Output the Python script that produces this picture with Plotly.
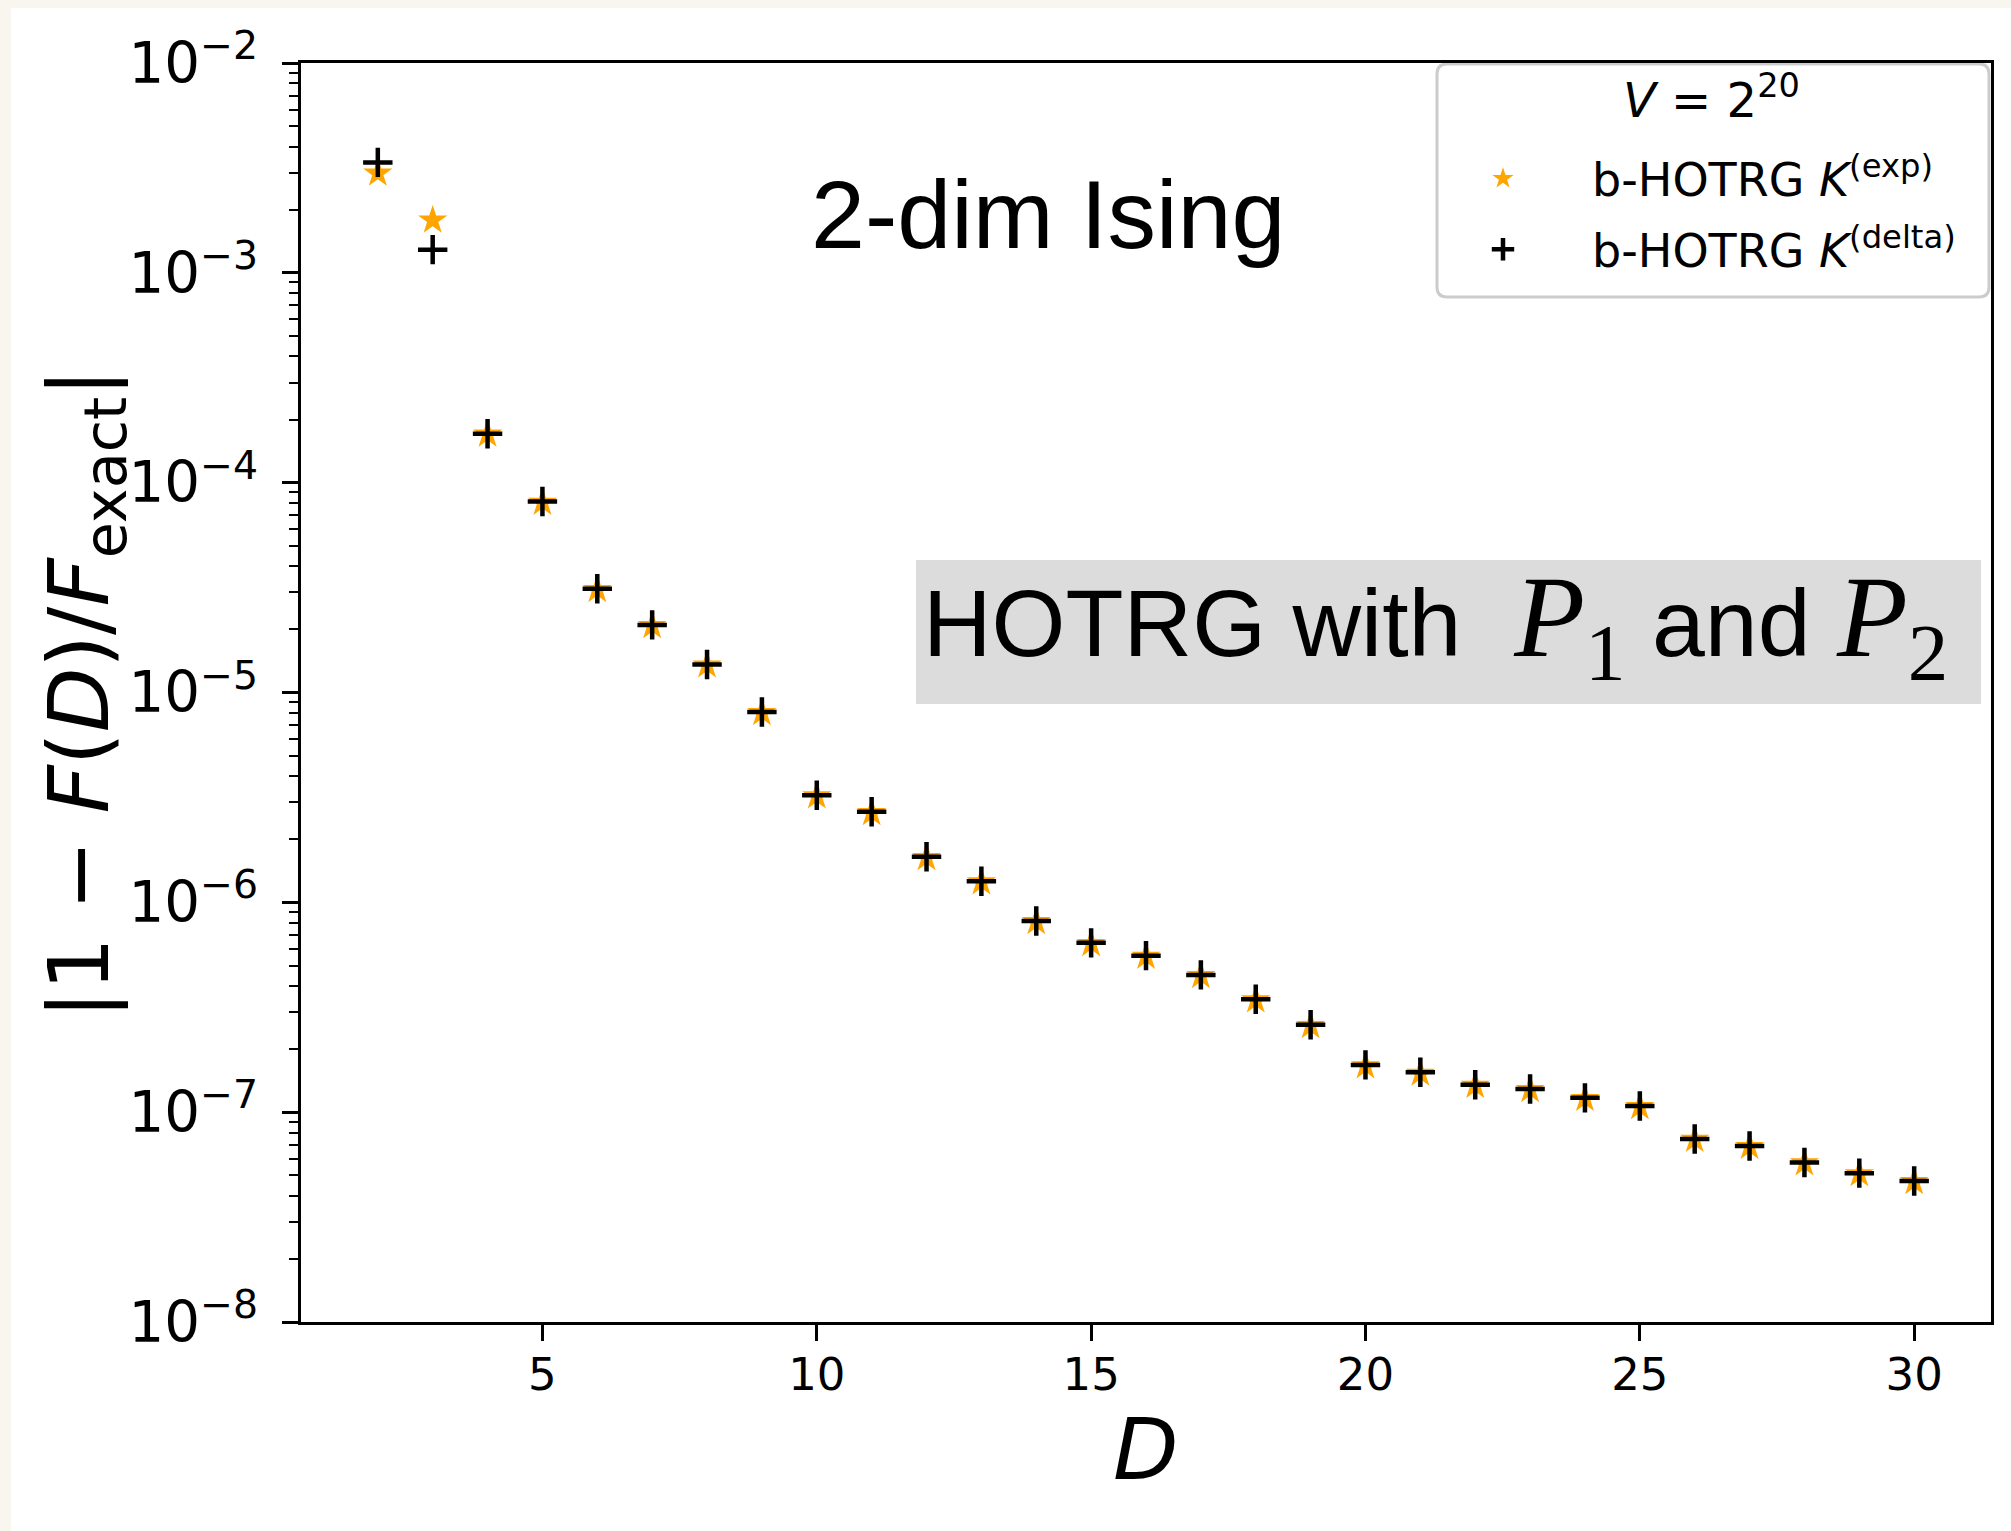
import plotly.graph_objects as go

# ---- data ----
D = list(range(2, 31))
err_exp = [2.98e-3, 1.78e-3, 1.70e-4, 8.05e-5, 3.09e-5, 2.08e-5, 1.35e-5, 8.0e-6,
           3.21e-6, 2.67e-6, 1.63e-6, 1.25e-6, 8.07e-7, 6.35e-7, 5.52e-7, 4.47e-7,
           3.42e-7, 2.58e-7, 1.66e-7, 1.53e-7, 1.34e-7, 1.28e-7, 1.16e-7, 1.06e-7,
           7.4e-8, 6.85e-8, 5.72e-8, 5.08e-8, 4.66e-8]
err_delta = [3.36e-3, 1.29e-3, 1.71e-4, 8.13e-5, 3.12e-5, 2.10e-5, 1.36e-5, 8.07e-6,
             3.24e-6, 2.70e-6, 1.65e-6, 1.26e-6, 8.15e-7, 6.41e-7, 5.57e-7, 4.51e-7,
             3.45e-7, 2.61e-7, 1.68e-7, 1.55e-7, 1.35e-7, 1.29e-7, 1.17e-7, 1.07e-7,
             7.45e-8, 6.9e-8, 5.76e-8, 5.12e-8, 4.70e-8]
x_ticks = [5, 10, 15, 20, 25, 30]

# ---- layout geometry (pixels) ----
W, H = 2011, 1531
L, R, T, B = 301, 1991, 63, 1322


def px(X):
    return (X - L) / (R - L)


def py(Y):
    return (B - Y) / (B - T)


fig = go.Figure()
fig.add_trace(go.Scatter(
    x=D, y=err_exp, mode="markers", name="b-HOTRG <i>K</i><sup>(exp)</sup>",
    marker=dict(symbol="star", size=22, color="#FFA500", line=dict(width=0)),
    legendgroup="a"))
fig.add_trace(go.Scatter(
    x=D, y=err_delta, mode="markers", name="b-HOTRG <i>K</i><sup>(delta)</sup>",
    marker=dict(symbol="cross-thin", size=21, color="black",
                line=dict(width=4.5, color="black")),
    legendgroup="b"))

tickfont = dict(family="DejaVu Sans", size=45, color="black")

fig.update_layout(
    width=W, height=H,
    margin=dict(l=L, r=W - R, t=T, b=H - B, pad=0),
    paper_bgcolor="#f9f5ef",
    plot_bgcolor="white",
    showlegend=True,
    legend=dict(
        x=px(1414), xanchor="left", y=py(142), yanchor="top",
        bgcolor="rgba(0,0,0,0)", borderwidth=0,
        font=dict(family="DejaVu Sans", size=46, color="black"),
        itemwidth=168, tracegroupgap=8, traceorder="grouped",
    ),
    xaxis=dict(
        range=[0.6, 31.4], tickmode="array", tickvals=x_ticks,
        ticks="outside", ticklen=16, tickwidth=3, tickcolor="black",
        showline=True, linewidth=3, linecolor="black", mirror=True,
        showgrid=False, zeroline=False, tickfont=tickfont, ticklabelstandoff=-5,
    ),
    yaxis=dict(
        type="log", range=[-8, -2], dtick=1, exponentformat="power",
        ticks="outside", ticklen=16, tickwidth=3, tickcolor="black",
        showline=True, linewidth=3, linecolor="black", mirror=True,
        showgrid=False, zeroline=False, tickfont=tickfont, ticklabelstandoff=15,
        minor=dict(ticks="outside", ticklen=9, tickwidth=2, tickcolor="black",
                   dtick="D1", showgrid=False),
    ),
)

# white page area (beige strip only on left and top)
fig.add_shape(type="rect", xref="paper", yref="paper",
              x0=px(11), x1=px(W + 5), y0=py(8), y1=py(H + 5),
              fillcolor="white", line=dict(width=0), layer="below")

# legend frame (rounded)
lx0, lx1, ly0, ly1, rr = 1437, 1989, 64, 297, 10
path = ("M {a},{b} L {c},{b} Q {d},{b} {d},{e} L {d},{f} Q {d},{g} {c},{g} "
        "L {a},{g} Q {h},{g} {h},{f} L {h},{e} Q {h},{b} {a},{b} Z").format(
    a=px(lx0 + rr), b=py(ly0), c=px(lx1 - rr), d=px(lx1), e=py(ly0 + rr),
    f=py(ly1 - rr), g=py(ly1), h=px(lx0))
fig.add_shape(type="path", xref="paper", yref="paper", path=path,
              fillcolor="white", line=dict(color="#cccccc", width=3), layer="below")
fig.add_annotation(
    xref="paper", yref="paper", x=px(1711), y=py(97), xanchor="center", yanchor="middle",
    text="<i>V</i> = 2<sup>20</sup>", showarrow=False,
    font=dict(family="DejaVu Sans", size=48, color="black"))

# gray box behind HOTRG label
fig.add_shape(type="rect", xref="paper", yref="paper",
              x0=px(916), x1=px(1981), y0=py(560), y1=py(704),
              fillcolor="#dcdcdc", line=dict(width=0), layer="below")

serif = "font-family:Liberation Serif;font-size:116px"
fig.add_annotation(
    xref="paper", yref="paper", x=px(921), y=py(626), xanchor="left", yanchor="middle",
    text=("HOTRG with&nbsp;&nbsp;<span style=\"%s\"><i>P</i><sub>1</sub></span> and "
          "<span style=\"%s\"><i>P</i><sub>2</sub></span>") % (serif, serif),
    showarrow=False, font=dict(family="Liberation Sans", size=95, color="black"))

fig.add_annotation(
    xref="paper", yref="paper", x=px(1048), y=py(214), xanchor="center", yanchor="middle",
    text="2-dim Ising", showarrow=False,
    font=dict(family="Liberation Sans", size=97, color="black"))

# axis titles
fig.add_annotation(
    xref="paper", yref="paper", x=px(85), y=py(694), xanchor="center", yanchor="middle",
    text="|1 − <i>F</i>(<i>D</i>)/<i>F</i><sub>exact</sub>|", textangle=-90,
    showarrow=False, font=dict(family="DejaVu Sans", size=84, color="black"))
fig.add_annotation(
    xref="paper", yref="paper", x=px(1145), y=py(1449), xanchor="center", yanchor="middle",
    text="<i>D</i>", showarrow=False,
    font=dict(family="DejaVu Sans", size=85, color="black"))

fig.write_html("out.html",
               config={"displayModeBar": False},
               post_script="document.body.style.margin='0px';"
                           "document.body.style.overflow='hidden';")
